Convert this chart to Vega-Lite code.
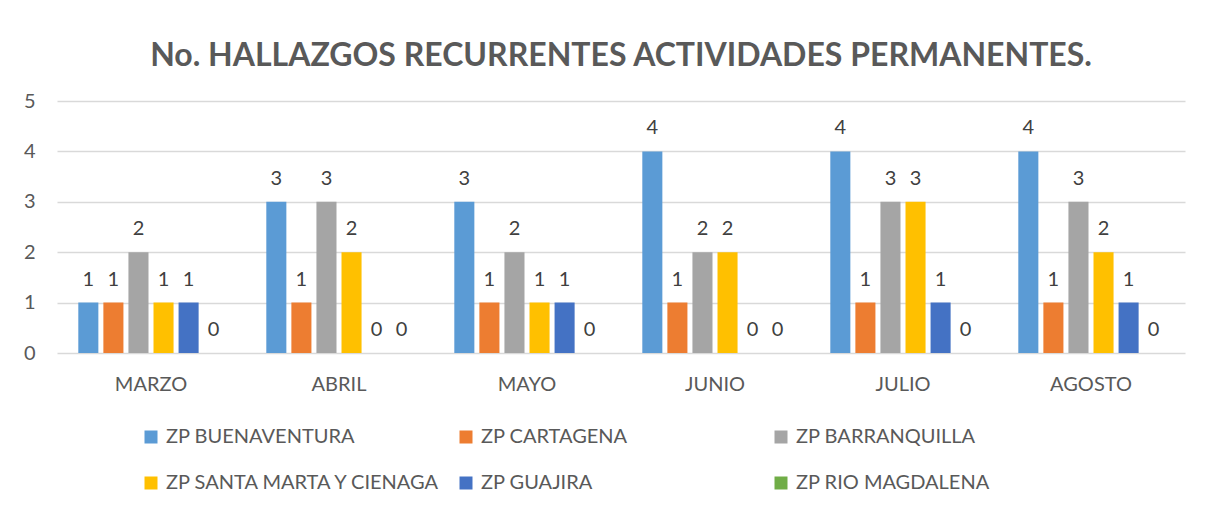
{
  "$schema": "https://vega.github.io/schema/vega-lite/v6.json",
  "width": 1128,
  "height": 252,
  "autosize": {"type": "none"},
  "padding": {"left": 57, "top": 101, "right": 23, "bottom": 162},
  "background": "white",
  "title": {
    "text": "No. HALLAZGOS RECURRENTES ACTIVIDADES PERMANENTES.",
    "font": "Lato",
    "fontSize": 32,
    "fontWeight": "bold",
    "color": "#595959",
    "anchor": "middle",
    "offset": 18
  },
  "data": {
    "values": [
      {"mes": "MARZO", "zona": "ZP BUENAVENTURA", "valor": 1},
      {"mes": "MARZO", "zona": "ZP CARTAGENA", "valor": 1},
      {"mes": "MARZO", "zona": "ZP BARRANQUILLA", "valor": 2},
      {"mes": "MARZO", "zona": "ZP SANTA MARTA Y CIENAGA", "valor": 1},
      {"mes": "MARZO", "zona": "ZP GUAJIRA", "valor": 1},
      {"mes": "MARZO", "zona": "ZP RIO MAGDALENA", "valor": 0},
      {"mes": "ABRIL", "zona": "ZP BUENAVENTURA", "valor": 3},
      {"mes": "ABRIL", "zona": "ZP CARTAGENA", "valor": 1},
      {"mes": "ABRIL", "zona": "ZP BARRANQUILLA", "valor": 3},
      {"mes": "ABRIL", "zona": "ZP SANTA MARTA Y CIENAGA", "valor": 2},
      {"mes": "ABRIL", "zona": "ZP GUAJIRA", "valor": 0},
      {"mes": "ABRIL", "zona": "ZP RIO MAGDALENA", "valor": 0},
      {"mes": "MAYO", "zona": "ZP BUENAVENTURA", "valor": 3},
      {"mes": "MAYO", "zona": "ZP CARTAGENA", "valor": 1},
      {"mes": "MAYO", "zona": "ZP BARRANQUILLA", "valor": 2},
      {"mes": "MAYO", "zona": "ZP SANTA MARTA Y CIENAGA", "valor": 1},
      {"mes": "MAYO", "zona": "ZP GUAJIRA", "valor": 1},
      {"mes": "MAYO", "zona": "ZP RIO MAGDALENA", "valor": 0},
      {"mes": "JUNIO", "zona": "ZP BUENAVENTURA", "valor": 4},
      {"mes": "JUNIO", "zona": "ZP CARTAGENA", "valor": 1},
      {"mes": "JUNIO", "zona": "ZP BARRANQUILLA", "valor": 2},
      {"mes": "JUNIO", "zona": "ZP SANTA MARTA Y CIENAGA", "valor": 2},
      {"mes": "JUNIO", "zona": "ZP GUAJIRA", "valor": 0},
      {"mes": "JUNIO", "zona": "ZP RIO MAGDALENA", "valor": 0},
      {"mes": "JULIO", "zona": "ZP BUENAVENTURA", "valor": 4},
      {"mes": "JULIO", "zona": "ZP CARTAGENA", "valor": 1},
      {"mes": "JULIO", "zona": "ZP BARRANQUILLA", "valor": 3},
      {"mes": "JULIO", "zona": "ZP SANTA MARTA Y CIENAGA", "valor": 3},
      {"mes": "JULIO", "zona": "ZP GUAJIRA", "valor": 1},
      {"mes": "JULIO", "zona": "ZP RIO MAGDALENA", "valor": 0},
      {"mes": "AGOSTO", "zona": "ZP BUENAVENTURA", "valor": 4},
      {"mes": "AGOSTO", "zona": "ZP CARTAGENA", "valor": 1},
      {"mes": "AGOSTO", "zona": "ZP BARRANQUILLA", "valor": 3},
      {"mes": "AGOSTO", "zona": "ZP SANTA MARTA Y CIENAGA", "valor": 2},
      {"mes": "AGOSTO", "zona": "ZP GUAJIRA", "valor": 1},
      {"mes": "AGOSTO", "zona": "ZP RIO MAGDALENA", "valor": 0}
    ]
  },
  "encoding": {
    "x": {
      "field": "mes",
      "type": "nominal",
      "sort": ["MARZO", "ABRIL", "MAYO", "JUNIO", "JULIO", "AGOSTO"],
      "scale": {"paddingInner": 0.2, "paddingOuter": 0.1},
      "axis": {
        "title": null,
        "labelAngle": 0,
        "labelFont": "Lato",
        "labelFontSize": 20,
        "labelColor": "#595959",
        "labelPadding": 21,
        "ticks": false,
        "domain": false,
        "grid": false
      }
    },
    "xOffset": {
      "field": "zona",
      "type": "nominal",
      "sort": ["ZP BUENAVENTURA", "ZP CARTAGENA", "ZP BARRANQUILLA", "ZP SANTA MARTA Y CIENAGA", "ZP GUAJIRA", "ZP RIO MAGDALENA"],
      "scale": {"paddingInner": 0.2, "paddingOuter": 0.1}
    },
    "y": {
      "field": "valor",
      "type": "quantitative",
      "scale": {"domain": [0, 5]},
      "axis": {
        "title": null,
        "values": [0, 1, 2, 3, 4, 5],
        "labelFont": "Lato",
        "labelFontSize": 20,
        "labelColor": "#595959",
        "labelPadding": 22,
        "ticks": false,
        "domain": false,
        "grid": true,
        "gridColor": "#D9D9D9",
        "gridWidth": 1.5
      }
    }
  },
  "layer": [
    {
      "mark": {"type": "bar"},
      "encoding": {
        "color": {
          "field": "zona",
          "type": "nominal",
          "scale": {
            "domain": ["ZP BUENAVENTURA", "ZP CARTAGENA", "ZP BARRANQUILLA", "ZP SANTA MARTA Y CIENAGA", "ZP GUAJIRA", "ZP RIO MAGDALENA"],
            "range": ["#5B9BD5", "#ED7D31", "#A5A5A5", "#FFC000", "#4472C4", "#70AD47"]
          },
          "legend": {
            "title": null,
            "orient": "none",
            "legendX": 84,
            "legendY": 326,
            "direction": "horizontal",
            "columns": 3,
            "gridAlign": "all",
            "columnPadding": 14,
            "rowPadding": 26,
            "symbolType": "square",
            "symbolSize": 169,
            "symbolStrokeWidth": 0,
            "symbolOpacity": 1,
            "labelFont": "Lato",
            "labelFontSize": 20,
            "labelColor": "#595959",
            "labelOffset": 5,
            "labelLimit": 400
          }
        }
      }
    },
    {
      "mark": {
        "type": "text",
        "font": "Lato",
        "fontSize": 20,
        "color": "#404040",
        "baseline": "middle",
        "dy": -23
      },
      "encoding": {
        "text": {"field": "valor", "type": "quantitative"}
      }
    }
  ],
  "config": {
    "view": {"stroke": null}
  }
}
